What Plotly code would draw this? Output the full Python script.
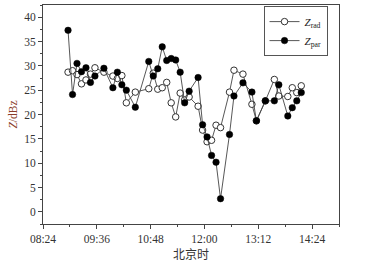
import plotly.graph_objects as go

times = ["08:57:30", "09:03:30", "09:09:30", "09:15:30", "09:21:30", "09:27:30", "09:33:30",
         "09:45:30", "09:57:30", "10:03:30", "10:09:30", "10:15:30", "10:27:30", "10:45:30",
         "10:51:30", "10:57:30", "11:03:30", "11:09:30", "11:15:30", "11:21:30", "11:27:30",
         "11:33:30", "11:39:30", "11:51:30", "11:57:30", "12:03:30", "12:09:30", "12:15:30",
         "12:21:30", "12:33:30", "12:39:30", "12:51:30", "13:03:30", "13:09:30", "13:21:30",
         "13:33:30", "13:39:30", "13:51:30", "13:57:30", "14:03:30", "14:09:30"]

z_rad = [28.7, 29.0, 28.2, 26.3, 27.1, 28.3, 29.6, 28.7, 27.9, 27.4, 28.0, 22.4, 24.6, 25.3,
         28.5, 25.2, 25.5, 26.6, 22.4, 19.5, 24.4, 23.0, 23.6, 21.7, 16.8, 14.4, 14.7, 17.8,
         17.3, 24.6, 29.1, 28.3, 22.1, 18.7, 22.8, 27.2, 23.8, 23.7, 25.5, 24.5, 25.9]

z_par = [37.3, 24.1, 30.5, 28.8, 29.6, 26.6, 27.9, 29.5, 25.5, 28.7, 26.1, 25.0, 21.5, 30.9,
         27.9, 29.4, 33.9, 31.1, 31.5, 31.2, 28.7, 22.4, 24.8, 27.6, 17.9, 15.4, 11.6, 10.2,
         2.7, 15.9, 23.8, 26.5, 24.6, 18.7, 22.8, 22.8, 26.1, 19.7, 21.4, 22.8, 24.5]

x = ["2020-01-01 " + t for t in times]

fig = go.Figure()
fig.add_trace(go.Scatter(
    x=x, y=z_rad, mode="lines+markers", name="<i>Z</i><sub>rad</sub>",
    line=dict(color="#444444", width=0.9),
    marker=dict(symbol="circle", size=6.5, color="white", line=dict(color="#333333", width=1)),
))
fig.add_trace(go.Scatter(
    x=x, y=z_par, mode="lines+markers", name="<i>Z</i><sub>par</sub>",
    line=dict(color="#444444", width=0.9),
    marker=dict(symbol="circle", size=6.5, color="black", line=dict(color="black", width=0.5)),
))

font_serif = "Liberation Serif"

fig.update_layout(
    width=367, height=263,
    margin=dict(l=43, r=28, t=5, b=39),
    paper_bgcolor="white", plot_bgcolor="white",
    font=dict(family=font_serif, size=11.5, color="#333333"),
    showlegend=True,
    legend=dict(x=0.745, y=0.995, xanchor="left", yanchor="top",
                bordercolor="#555555", borderwidth=1, bgcolor="white",
                font=dict(family=font_serif, size=11, color="#222222"),
                itemwidth=30, tracegroupgap=0),
    xaxis=dict(
        type="date",
        range=["2020-01-01 08:24", "2020-01-01 15:00"],
        tick0="2020-01-01 08:24", dtick=72 * 60 * 1000,
        tickformat="%H:%M",
        showgrid=False, zeroline=False,
        showline=True, linecolor="#444444", linewidth=1, mirror=True,
        ticks="outside", ticklen=4, tickcolor="#444444",
        minor=dict(ticks="outside", ticklen=2, tickcolor="#444444", dtick=36 * 60 * 1000,
                   tick0="2020-01-01 08:24"),
        title=dict(text="北京时", font=dict(family="Noto Sans CJK SC", size=12, color="#333333"),
                   standoff=2),
    ),
    yaxis=dict(
        range=[-2.5, 42.5], tick0=0, dtick=5,
        showgrid=False, zeroline=False,
        showline=True, linecolor="#444444", linewidth=1, mirror=True,
        ticks="outside", ticklen=4, tickcolor="#444444",
        minor=dict(ticks="outside", ticklen=2, tickcolor="#444444", dtick=2.5),
        title=dict(text="<i>Z</i>/dBz", font=dict(family=font_serif, size=11.5, color="#8a3d2a"),
                   standoff=4),
    ),
)

fig.write_html("out.html", config={"displayModeBar": False},
               post_script="document.body.style.margin='0';document.body.style.overflow='hidden';")
